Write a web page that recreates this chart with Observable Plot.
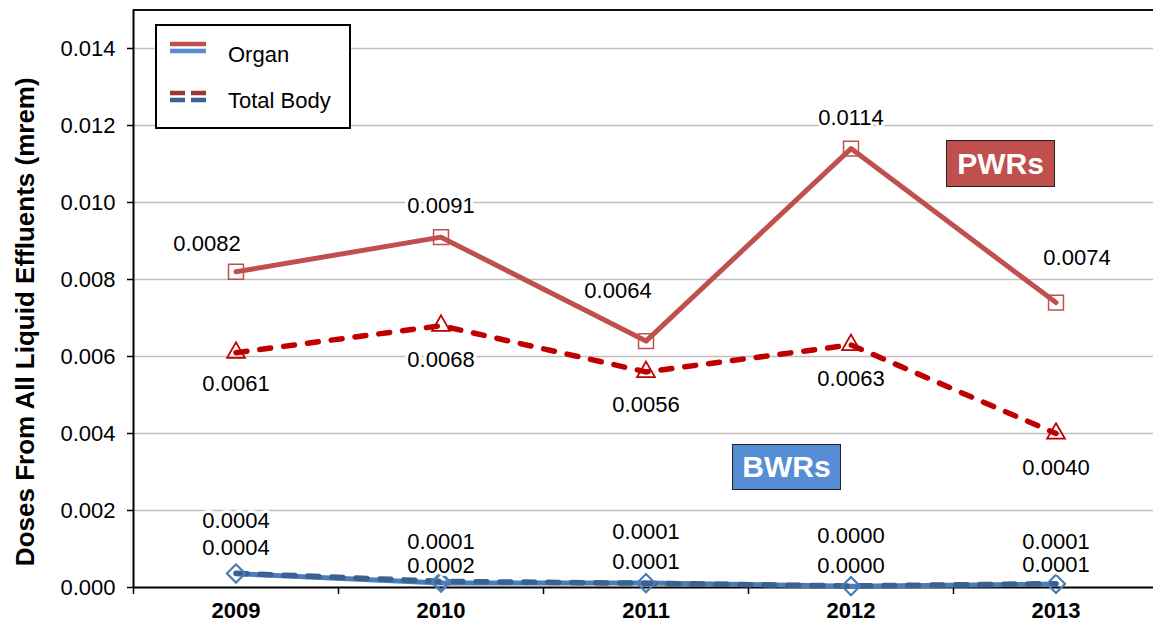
<!DOCTYPE html>
<html>
<head>
<meta charset="utf-8">
<script src="https://cdn.jsdelivr.net/npm/d3@7"></script>
<script src="https://cdn.jsdelivr.net/npm/@observablehq/plot@0.6"></script>
<style>
  html, body { margin: 0; padding: 0; background: #fff; }
  #wrap { position: relative; width: 1153px; height: 627px; font-family: "Liberation Sans", Arial, sans-serif; }
  #legend { position: absolute; left: 155px; top: 24px; width: 192px; height: 101px; border: 2px solid #000; background: #fff; }
  #legend .lbl { position: absolute; left: 71px; font-size: 22px; line-height: 22px; color: #000; }
  .tag { position: absolute; box-sizing: border-box; border: 1.5px solid #222; color: #fff; font-weight: bold; font-size: 30px; display: flex; align-items: center; justify-content: center; }
</style>
</head>
<body>
<div id="wrap"></div>
<script>
// ---- data ----
const years = [2009, 2010, 2011, 2012, 2013];
const pwrOrgan = [0.0082, 0.0091, 0.0064, 0.0114, 0.0074];
const pwrTotalBody = [0.0061, 0.0068, 0.0056, 0.0063, 0.0040];
const bwrOrgan = [0.00036, 0.00012, 0.00012, 0.00003, 0.00009];
const bwrTotalBody = [0.00037, 0.00016, 0.00011, 0.00004, 0.00010];
const yTicks = [0, 0.002, 0.004, 0.006, 0.008, 0.010, 0.012, 0.014];
const yMax = 0.015;
const yTitle = "Doses From All Liquid Effluents (mrem)";
const seriesNames = ["Organ", "Total Body"];
const groupNames = ["PWRs", "BWRs"];

// ---- layout of data labels (pixel nudges) ----
const pwrOrganNudge = [[-29, -28], [0, -31], [-28, -50], [0, -31], [21, -45]];
const pwrTBNudge = [[0, 31], [0, 34], [0, 33], [0, 34], [0, 34]];
const bwrOrganNudge = [[0, -53], [0, -41], [0, -51], [0, -50], [0, -42]];
const bwrTBNudge = [[0, -25], [0, -15], [0, -21], [0, -20], [0, -19]];

const rows = (vals) => years.map((yr, i) => ({year: yr, value: vals[i]}));
const between = [2008.5, ...years.slice(0, -1).map(y => y + 0.5)];

const C = {
  pwrOrgan: "#C0504D",
  pwrTB: "#C00000",
  bwrOrgan: "#4A7EBB",
  bwrTB: "#3A6190"
};

function labels(vals, nudge) {
  return years.map((yr, i) => Plot.text([{year: yr, value: vals[i]}], {
    x: "year", y: "value", text: d => d.value.toFixed(4),
    dx: nudge[i][0], dy: nudge[i][1],
    fontSize: 22, fill: "#000", stroke: "white", strokeWidth: 6, paintOrder: "stroke"
  }));
}

const chart = Plot.plot({
  width: 1153,
  height: 627,
  marginLeft: 133,
  marginRight: 0,
  marginTop: 9.5,
  marginBottom: 40,
  style: {fontFamily: "'Liberation Sans', Arial, sans-serif", fontSize: "22px", color: "#000", background: "#fff"},
  x: {type: "linear", domain: [2008.5, 2013.5], range: [133, 1158]},
  y: {domain: [0, yMax]},
  marks: [
    Plot.ruleY(yTicks.slice(1), {stroke: "#BFBFBF", strokeWidth: 1.5}),
    Plot.ruleY([yMax], {stroke: "#111", strokeWidth: 2}),
    Plot.ruleY([0], {stroke: "#000", strokeWidth: 2}),
    Plot.ruleX([2008.5], {stroke: "#000", strokeWidth: 2}),
    Plot.axisY(yTicks, {tickFormat: d => d.toFixed(3), tickSize: 6, tickPadding: 12, fontSize: 22, label: null, strokeWidth: 1.5}),
    Plot.axisX(between, {tickSize: 7, tickFormat: () => "", label: null, strokeWidth: 1.5}),
    Plot.axisX(years, {tickSize: 0, tickPadding: 15, tickFormat: d => String(d), fontWeight: "bold", fontSize: 22, label: null}),
    Plot.text([yTitle], {frameAnchor: "left", rotate: -90, dx: -108, dy: 23, fontWeight: "bold", fontSize: 26, textAnchor: "middle", fill: "#000"}),
    // PWR
    Plot.line(rows(pwrOrgan), {x: "year", y: "value", stroke: C.pwrOrgan, strokeWidth: 5}),
    Plot.line(rows(pwrTotalBody), {x: "year", y: "value", stroke: C.pwrTB, strokeWidth: 5.5, strokeDasharray: "11,13", strokeLinecap: "round"}),
    Plot.dot(rows(pwrOrgan), {x: "year", y: "value", symbol: "square2", r: 9.5, stroke: C.pwrOrgan, strokeWidth: 1.5, fill: "none"}),
    Plot.dot(rows(pwrTotalBody), {x: "year", y: "value", symbol: "triangle2", r: 8.5, stroke: C.pwrTB, strokeWidth: 1.8, fill: "none"}),
    // BWR
    Plot.line(rows(bwrOrgan), {x: "year", y: "value", stroke: C.bwrOrgan, strokeWidth: 5}),
    Plot.line(rows(bwrTotalBody), {x: "year", y: "value", stroke: C.bwrTB, strokeWidth: 5.5, strokeDasharray: "11,13", strokeLinecap: "round"}),
    Plot.dot(rows(bwrOrgan), {x: "year", y: "value", symbol: "diamond2", r: 8.2, stroke: C.bwrOrgan, strokeWidth: 1.8, fill: "none"}),
    Plot.dot(rows(bwrTotalBody), {x: "year", y: "value", symbol: "diamond2", r: 8.2, stroke: C.bwrOrgan, strokeWidth: 1.8, fill: "none"}),
    ...labels(pwrOrgan, pwrOrganNudge),
    ...labels(pwrTotalBody, pwrTBNudge),
    ...labels(bwrOrgan, bwrOrganNudge),
    ...labels(bwrTotalBody, bwrTBNudge)
  ]
});

const wrap = document.getElementById("wrap");
wrap.appendChild(chart);

// legend
const legend = document.createElement("div");
legend.id = "legend";
legend.innerHTML = `
<svg width="192" height="101" style="position:absolute;left:0;top:0">
  <line x1="13" x2="49" y1="18" y2="18" stroke="#C0504D" stroke-width="4.5"/>
  <line x1="13" x2="49" y1="25" y2="25" stroke="#558ED5" stroke-width="4.5"/>
  <line x1="13" x2="49" y1="67" y2="67" stroke="#993838" stroke-width="4.5" stroke-dasharray="15,6"/>
  <line x1="13" x2="49" y1="74" y2="74" stroke="#3A6496" stroke-width="4.5" stroke-dasharray="15,6"/>
</svg>
<div class="lbl" style="top:18px">${seriesNames[0]}</div>
<div class="lbl" style="top:64px">${seriesNames[1]}</div>`;
wrap.appendChild(legend);

// group tags
const pwr = document.createElement("div");
pwr.className = "tag";
pwr.style.cssText = "left:946px;top:140px;width:109px;height:47px;background:#C0504D;";
pwr.textContent = groupNames[0];
wrap.appendChild(pwr);

const bwr = document.createElement("div");
bwr.className = "tag";
bwr.style.cssText = "left:732px;top:444px;width:109px;height:46px;background:#558ED5;";
bwr.textContent = groupNames[1];
wrap.appendChild(bwr);
</script>
</body>
</html>
